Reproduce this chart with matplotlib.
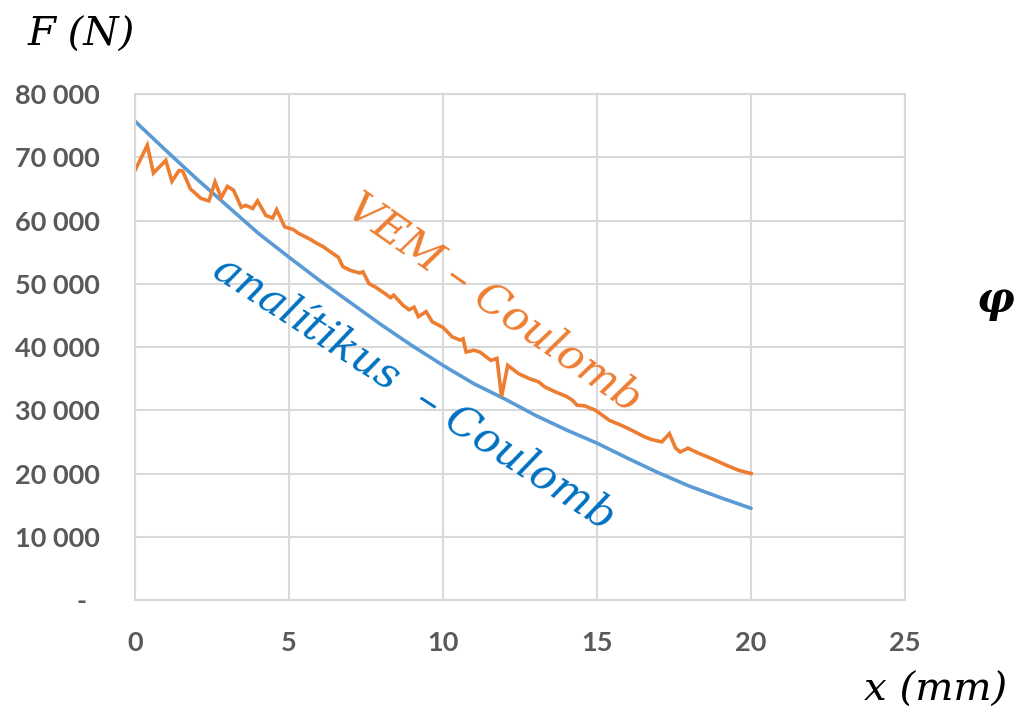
import matplotlib.pyplot as plt

# ---- data ----
x_anal = [0, 1, 2, 3, 4, 5, 6, 7, 8, 9, 10, 11, 12, 13, 14, 15, 16, 17, 18, 19, 20]
f_anal = [75700, 71100, 66600, 62300, 58000, 54200, 50500, 47000, 43500, 40200,
          37100, 34200, 31800, 29200, 26900, 24800, 22400, 20100, 18000, 16200, 14500]

x_vem = [0.0, 0.4, 0.6, 1.0, 1.2, 1.43, 1.55, 1.8, 2.14, 2.4, 2.6, 2.8, 3.0, 3.2, 3.45,
         3.6, 3.82, 3.98, 4.25, 4.47, 4.6, 4.86, 5.13, 5.3, 5.7, 5.9, 6.1, 6.3, 6.6, 6.75,
         7.0, 7.3, 7.4, 7.6, 7.8, 8.1, 8.3, 8.4, 8.7, 8.9, 9.06, 9.2, 9.45, 9.65, 10.0,
         10.3, 10.55, 10.65, 10.75, 11.0, 11.2, 11.55, 11.75, 11.9, 12.1, 12.45, 12.8,
         13.1, 13.3, 13.65, 14.0, 14.2, 14.35, 14.6, 14.95, 15.4, 15.8, 16.1, 16.5,
         16.75, 17.1, 17.35, 17.55, 17.7, 17.95, 18.3, 18.75, 19.2, 19.6, 20.0]
f_vem = [67900, 71900, 67500, 69500, 66200, 67900, 67800, 65000, 63500, 63100, 66100,
         63600, 65400, 64800, 62100, 62400, 61900, 63100, 60800, 60400, 61700, 59000,
         58600, 58000, 57000, 56400, 55900, 55200, 54200, 52700, 52100, 51700, 51900,
         50000, 49500, 48500, 47800, 48200, 46600, 45900, 46300, 44800, 45600, 44000,
         43100, 41600, 41100, 41300, 39200, 39500, 39200, 37900, 38200, 32200, 37100,
         35800, 35000, 34500, 33700, 32900, 32200, 31600, 30800, 30700, 30000, 28400,
         27600, 26900, 25900, 25400, 25000, 26300, 24000, 23400, 24000, 23200, 22300,
         21300, 20500, 20000]

x_ticks = [0, 5, 10, 15, 20, 25]
y_ticks = [0, 10000, 20000, 30000, 40000, 50000, 60000, 70000, 80000]
y_labels = ["-  ", "10 000", "20 000", "30 000", "40 000", "50 000",
            "60 000", "70 000", "80 000"]

ORANGE = "#ED7D31"
BLUE_LINE = "#5B9BD5"
BLUE_TEXT = "#0070C0"
GRID = "#D9D9D9"
TICK = "#595959"

fig = plt.figure(figsize=(10.17, 7.15), dpi=100)
ax = fig.add_axes([0.1327, 0.1608, 0.7573, 0.7077])

ax.plot(x_anal, f_anal, color=BLUE_LINE, lw=2.6, solid_capstyle="round")
ax.plot(x_vem, f_vem, color=ORANGE, lw=2.6, solid_joinstyle="miter")

ax.set_xlim(0, 25)
ax.set_ylim(0, 80000)
ax.set_xticks(x_ticks)
ax.set_yticks(y_ticks)
ax.set_yticklabels(y_labels)
ax.grid(True, color=GRID, lw=1.5)
ax.set_axisbelow(True)
for s in ax.spines.values():
    s.set_color(GRID)
    s.set_linewidth(1.5)
ax.tick_params(length=0, colors=TICK)
ax.tick_params(axis="y", pad=25)
ax.tick_params(axis="x", pad=22)
for lab in ax.get_xticklabels() + ax.get_yticklabels():
    lab.set_fontfamily("Lato")
    lab.set_fontweight("bold")
    lab.set_fontsize(19.5)

serif = dict(family="DejaVu Serif", style="italic")
ax.text(11.65, 47000, "VEM – Coulomb", color=ORANGE, fontsize=31, rotation=-35,
        ha="center", va="center", rotation_mode="anchor", **serif)
ax.text(9.05, 32600, "analítikus  – Coulomb", color=BLUE_TEXT, fontsize=31, rotation=-33,
        ha="center", va="center", rotation_mode="anchor", **serif)

fig.text(0.027, 0.95, "F (N)", fontsize=29, color="black", ha="left", va="center", **serif)
fig.text(0.99, 0.035, "x (mm)", fontsize=29, color="black", ha="right", va="center", **serif)
fig.text(0.997, 0.58, "φ", fontsize=30, color="black", ha="right", va="center",
         family="DejaVu Serif", style="italic", weight="bold")

fig.savefig("out.png", dpi=100)
